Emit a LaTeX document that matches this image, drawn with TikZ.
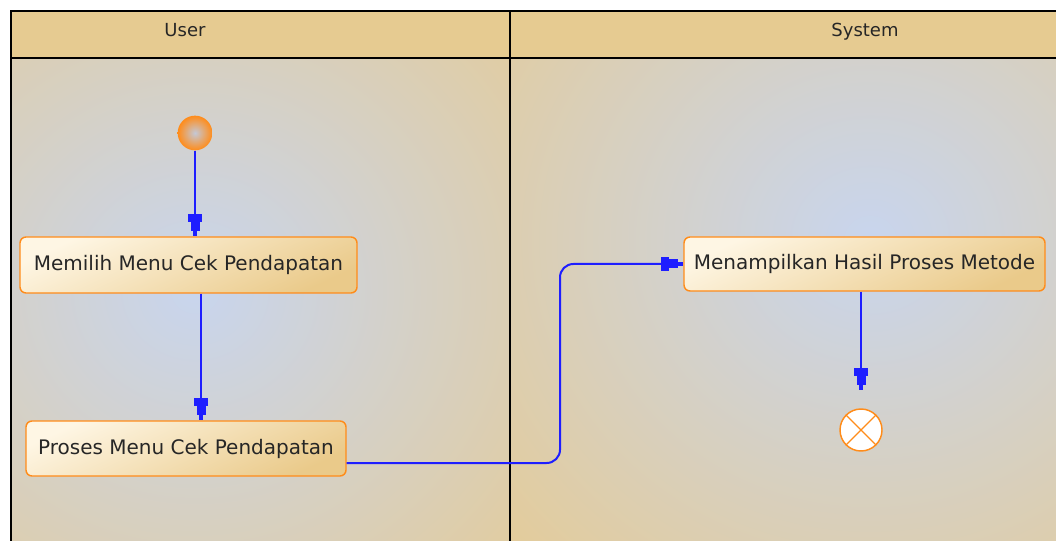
\documentclass[tikz,border=0pt]{standalone}
\usepackage{fontspec}
\setmainfont{DejaVu Sans}
\usetikzlibrary{arrows.meta,calc}
\definecolor{lanetan}{RGB}{232,202,140}
\definecolor{hdrtan}{RGB}{230,203,145}
\definecolor{laneblue}{RGB}{200,213,238}
\definecolor{boxtan}{RGB}{234,202,138}
\definecolor{boxlight}{RGB}{254,246,228}
\definecolor{boxorange}{RGB}{255,140,26}
\definecolor{startcore}{RGB}{196,200,214}
\definecolor{flowblue}{RGB}{30,30,255}
\begin{document}
\begin{tikzpicture}[x=0.75pt,y=-0.75pt,
  act/.style={draw=boxorange, line width=1.1pt, rounded corners=4.5pt,
    top color=boxlight, bottom color=boxtan, shading angle=25,
    inner sep=0pt, font=\fontsize{15}{18}\selectfont, text=black!85},
  flow/.style={draw=flowblue, line width=1.5pt,
    -{Rectangle[length=6pt,width=10.5pt,sep=0pt] Rectangle[length=6.75pt,width=6.75pt,sep=0pt] Rectangle[length=3.75pt,width=3pt,sep=0pt]}},
  lanehead/.style={font=\fontsize{13.5}{16}\selectfont, text=black!85, anchor=base, inner sep=0pt}]
\useasboundingbox (0,0) rectangle (1056,541);
\fill[white] (0,0) rectangle (1056,541);
% header
\fill[hdrtan] (11,11) rectangle (1056,58);
% lanes
\begin{scope}
  \clip (11,58) rectangle (510,541);
  \fill[lanetan] (11,58) rectangle (510,541);
  \shade[inner color=laneblue, outer color=lanetan] (195,290) ellipse [x radius=400pt, y radius=380pt];
\end{scope}
\begin{scope}
  \clip (510,58) rectangle (1056,541);
  \fill[lanetan] (510,58) rectangle (1056,541);
  \shade[inner color=laneblue, outer color=lanetan] (870,240) ellipse [x radius=430pt, y radius=400pt];
\end{scope}
% frame
\draw[line width=1.5pt] (1056,11) -- (11,11) -- (11,541);
\draw[line width=1.5pt] (11,58) -- (1056,58);
\draw[line width=1.5pt] (510,11) -- (510,541);
\node[lanehead] (huser) at (185,37) {User};
\node[lanehead] (hsys) at (865,37) {System};
% nodes
\shade[inner color=startcore, outer color=boxorange] (195,133) circle [radius=13pt];
\node[circle, minimum size=26pt, inner sep=0pt] (start) at (195,133) {};
\node[act, minimum width=252.75pt, minimum height=42pt] (memilih) at (188.5,265) {Memilih Menu Cek Pendapatan};
\node[act, minimum width=240pt, minimum height=41.25pt] (proses) at (186,448.5) {Proses Menu Cek Pendapatan};
\node[act, minimum width=270.75pt, minimum height=40.5pt] (tampil) at (864.5,264) {Menampilkan Hasil Proses Metode};
\node[circle, draw=boxorange, fill=white, line width=1.1pt, minimum size=31.5pt, inner sep=0pt] (end) at (861,430) {};
\draw[boxorange, line width=1pt] (end.north east) -- (end.south west) (end.north west) -- (end.south east);
% connectors
\coordinate (c1) at (201,0);
\coordinate (c2) at (0,463);
\coordinate (c3) at (560,0);
\draw[flow] (start.south) -- (start.south |- memilih.north);
\draw[flow] (memilih.south -| c1) -- (proses.north -| c1);
\draw[flow, rounded corners=10pt] (proses.east |- c2) -- (c3 |- c2) -- (c3 |- tampil.west) -- (tampil.west);
\draw[flow, shorten >=14pt] (tampil.south -| end) -- (end.north);
\end{tikzpicture}
\end{document}
